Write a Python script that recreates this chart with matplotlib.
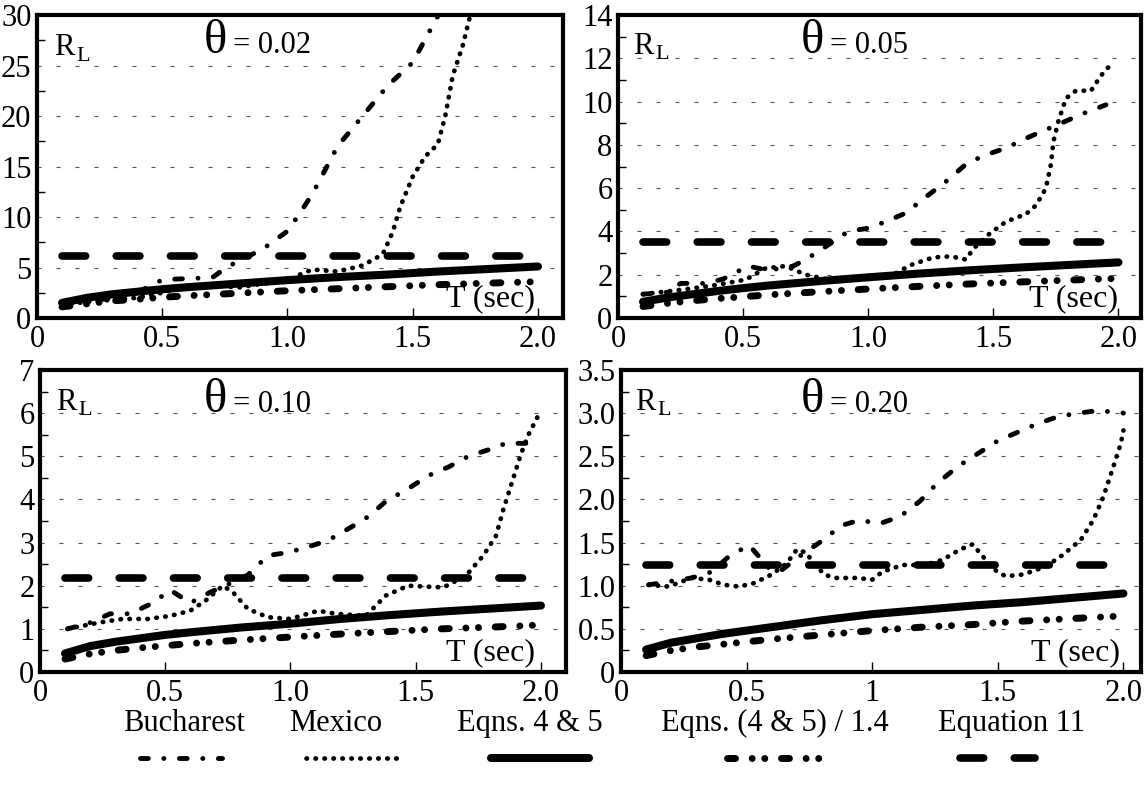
import numpy as np
import matplotlib
matplotlib.use("Agg")
import matplotlib.pyplot as plt
from matplotlib.ticker import MultipleLocator, FixedLocator

plt.rcParams['font.family'] = ['Liberation Serif', 'DejaVu Serif']

# ---- data ---------------------------------------------------------------
# smooth code curves share one period grid
t_eq = [0.1, 0.2, 0.3, 0.4, 0.5, 0.6, 0.8, 1.0, 1.2, 1.4, 1.6, 1.8, 2.0]

# theta = 0.02
buc_t_02 = [0.1, 0.2, 0.3, 0.4, 0.45, 0.5, 0.6, 0.7, 0.75, 0.8, 0.9, 1.0, 1.05,
            1.1, 1.2, 1.3, 1.4, 1.5, 1.6, 1.65]
buc_r_02 = [1.2, 1.6, 2.0, 2.6, 3.1, 3.8, 3.9, 4.0, 4.9, 5.6, 6.8, 8.6, 10.4,
            12.3, 17.0, 20.0, 23.0, 25.3, 29.9, 33.0]
mex_t_02 = [0.1, 0.2, 0.3, 0.4, 0.5, 0.6, 0.7, 0.8, 0.9, 1.0, 1.05, 1.1, 1.2,
            1.3, 1.38, 1.42, 1.45, 1.5, 1.55, 1.6, 1.63, 1.66, 1.7, 1.73, 1.75]
mex_r_02 = [1.3, 1.6, 1.8, 2.0, 2.5, 3.2, 3.3, 3.0, 3.4, 3.6, 4.3, 4.8, 4.6,
            5.2, 6.3, 8.5, 11.0, 14.0, 16.0, 17.2, 20.0, 24.0, 27.0, 30.0, 32.0]
eq45_02 = [1.5, 2.0, 2.35, 2.6, 2.85, 3.05, 3.4, 3.75, 4.05, 4.3, 4.6, 4.85, 5.1]
eq14_02 = [1.1, 1.4, 1.7, 1.85, 2.05, 2.2, 2.45, 2.7, 2.9, 3.1, 3.3, 3.45, 3.6]
eq11_02 = 6.1

# theta = 0.05
buc_t_05 = [0.1, 0.2, 0.25, 0.35, 0.42, 0.52, 0.6, 0.7, 0.75, 0.83, 0.92, 1.0,
            1.07, 1.15, 1.22, 1.31, 1.39, 1.46, 1.55, 1.63, 1.71, 1.79, 1.87, 1.95]
buc_r_05 = [1.1, 1.2, 1.6, 1.6, 1.8, 2.4, 2.2, 2.4, 2.7, 3.3, 4.0, 4.15,
            4.45, 4.85, 5.5, 6.3, 7.1, 7.5, 7.85, 8.3, 8.7, 9.1, 9.5, 9.85]
mex_t_05 = [0.1, 0.25, 0.38, 0.51, 0.59, 0.67, 0.75, 0.83, 0.95, 1.1, 1.17, 1.26,
            1.33, 1.39, 1.42, 1.48, 1.55, 1.63, 1.67, 1.71, 1.73, 1.74, 1.76,
            1.79, 1.83, 1.89, 1.93, 1.98]
mex_r_05 = [1.1, 1.3, 1.5, 1.77, 2.3, 2.4, 2.0, 1.8, 1.85, 2.0, 2.45, 2.8,
            2.85, 2.7, 3.2, 3.85, 4.45, 4.8, 5.2, 6.0, 7.1, 8.15, 9.1,
            10.15, 10.5, 10.5, 11.2, 11.85]
eq45_05 = [0.75, 0.95, 1.1, 1.25, 1.38, 1.5, 1.7, 1.88, 2.05, 2.2, 2.33, 2.45, 2.57]
eq14_05 = [0.53, 0.68, 0.8, 0.9, 0.98, 1.07, 1.21, 1.34, 1.46, 1.57, 1.66, 1.75, 1.83]
eq11_05 = 3.5

# theta = 0.10
buc_t_10 = [0.11, 0.19, 0.28, 0.36, 0.45, 0.52, 0.6, 0.68, 0.74, 0.83, 0.91, 0.99,
            1.07, 1.15, 1.24, 1.31, 1.38, 1.47, 1.55, 1.63, 1.71, 1.79, 1.86, 1.95]
buc_r_10 = [1.0, 1.12, 1.35, 1.35, 1.6, 1.9, 1.6, 1.85, 2.0, 2.25, 2.7, 2.77,
            2.9, 3.05, 3.35, 3.6, 3.95, 4.25, 4.55, 4.75, 5.0, 5.15, 5.3, 5.3]
mex_t_10 = [0.11, 0.24, 0.33, 0.43, 0.52, 0.6, 0.66, 0.73, 0.77, 0.83, 0.91, 1.0,
            1.11, 1.18, 1.3, 1.38, 1.47, 1.61, 1.7, 1.77, 1.82, 1.85, 1.89, 1.92,
            1.95, 1.99]
mex_r_10 = [1.0, 1.15, 1.23, 1.23, 1.3, 1.42, 1.65, 2.0, 1.85, 1.46, 1.27, 1.23,
            1.42, 1.35, 1.3, 1.77, 2.0, 1.96, 2.23, 2.7, 3.15, 3.77, 4.5, 5.05,
            5.5, 5.95]
eq45_10 = [0.43, 0.6, 0.7, 0.78, 0.86, 0.92, 1.03, 1.12, 1.23, 1.32, 1.4, 1.47, 1.54]
eq14_10 = [0.3, 0.42, 0.5, 0.56, 0.61, 0.66, 0.74, 0.81, 0.88, 0.94, 1.0, 1.04, 1.09]
eq11_10 = 2.17

# theta = 0.20
buc_t_20 = [0.11, 0.28, 0.36, 0.43, 0.51, 0.59, 0.63, 0.71, 0.79, 0.88, 0.95,
            1.03, 1.11, 1.19, 1.26, 1.34, 1.42, 1.5, 1.58, 1.66, 1.74, 1.82,
            1.9, 2.0]
buc_r_20 = [1.01, 1.09, 1.16, 1.34, 1.47, 1.2, 1.16, 1.34, 1.5, 1.7, 1.76,
            1.72, 1.8, 1.98, 2.19, 2.38, 2.53, 2.68, 2.78, 2.88, 2.96, 3.0,
            3.03, 3.0]
mex_t_20 = [0.11, 0.19, 0.28, 0.35, 0.41, 0.47, 0.53, 0.6, 0.66, 0.7, 0.74, 0.76,
            0.81, 0.85, 0.94, 1.0, 1.04, 1.12, 1.21, 1.28, 1.35, 1.4, 1.44, 1.49,
            1.53, 1.6, 1.69, 1.76, 1.83, 1.88, 1.92, 1.96, 1.99, 2.0]
mex_r_20 = [1.01, 0.99, 1.09, 1.07, 1.01, 0.99, 1.03, 1.13, 1.26, 1.42, 1.38, 1.28,
            1.13, 1.09, 1.09, 1.07, 1.16, 1.24, 1.24, 1.3, 1.42, 1.48, 1.34, 1.18,
            1.11, 1.13, 1.22, 1.36, 1.53, 1.76, 2.03, 2.38, 2.65, 2.8]
eq45_20 = [0.26, 0.34, 0.39, 0.44, 0.48, 0.52, 0.6, 0.67, 0.72, 0.77, 0.81, 0.86, 0.91]
eq14_20 = [0.19, 0.25, 0.29, 0.32, 0.35, 0.38, 0.43, 0.48, 0.52, 0.55, 0.59, 0.62, 0.65]
eq11_20 = 1.24

eq11_t = [0.1, 1.95]

thetas = ['0.02', '0.05', '0.10', '0.20']
y_max = [30, 14, 7, 3.5]
y_step = [5, 2, 1, 0.5]
y_labels = [['0', '5', '10', '15', '20', '25', '30'],
            ['0', '2', '4', '6', '8', '10', '12', '14'],
            ['0', '1', '2', '3', '4', '5', '6', '7'],
            ['0', '0.5', '1.0', '1.5', '2.0', '2.5', '3.0', '3.5']]
x_labels = [['0', '0.5', '1.0', '1.5', '2.0'],
            ['0', '0.5', '1.0', '1.5', '2.0'],
            ['0', '0.5', '1.0', '1.5', '2.0'],
            ['0', '0.5', '1', '1.5', '2.0']]

panels = [
    (buc_t_02, buc_r_02, mex_t_02, mex_r_02, eq45_02, eq14_02, eq11_02),
    (buc_t_05, buc_r_05, mex_t_05, mex_r_05, eq45_05, eq14_05, eq11_05),
    (buc_t_10, buc_r_10, mex_t_10, mex_r_10, eq45_10, eq14_10, eq11_10),
    (buc_t_20, buc_r_20, mex_t_20, mex_r_20, eq45_20, eq14_20, eq11_20),
]

# ---- styles (dash lengths are in line widths) ----------------------------
styles = {
    'Bucharest': dict(lw=3.5, dashes=(1.6, 3.2, 0.01, 3.2)),
    'Mexico': dict(lw=3.4, dashes=(0.1, 1.8)),
    'Eqns. 4 & 5': dict(lw=5.8),
    'Eqns. (4 & 5) / 1.4': dict(lw=5, dashes=(1.15, 2.4, 0.01, 1.8, 0.01, 2.4)),
    'Equation 11': dict(lw=5.5, dashes=(3.1, 4.0)),
}
for s in styles.values():
    s.update(color='black', dash_capstyle='round', solid_capstyle='round')

W, H = 1144, 787
fig = plt.figure(figsize=(W / 100, H / 100), dpi=100)

# axes frames in pixels: left, top, right, bottom
frames = [(37, 15, 563, 318), (618, 15, 1141, 318),
          (40, 370, 566, 672), (621, 370, 1141, 672)]
x_right = [2.1, 2.09, 2.1, 2.07]

theta_pos = [(0.317, 0.875), (0.35, 0.875), (0.312, 0.862), (0.346, 0.862)]
rl_pos = [(0.032, 0.868), (0.029, 0.872), (0.03, 0.868), (0.027, 0.868)]
tsec_pos = [0.947, 0.956, 0.941, 0.96]

for i, (bt, br, mt, mr, e45, e14, e11) in enumerate(panels):
    l, t, r, b = frames[i]
    ax = fig.add_axes([l / W, 1 - b / H, (r - l) / W, (b - t) / H])
    ax.plot(bt, br, **styles['Bucharest'])
    ax.plot(mt, mr, **styles['Mexico'])
    ax.plot(t_eq, e45, **styles['Eqns. 4 & 5'])
    ax.plot(t_eq, e14, **styles['Eqns. (4 & 5) / 1.4'])
    ax.plot(eq11_t, [e11, e11], **styles['Equation 11'])

    ax.set_xlim(0, x_right[i])
    ax.set_ylim(0, y_max[i])
    ax.xaxis.set_major_locator(FixedLocator([0, 0.5, 1.0, 1.5, 2.0]))
    ax.set_xticklabels(x_labels[i])
    yt = np.arange(len(y_labels[i])) * y_step[i]
    ax.yaxis.set_major_locator(FixedLocator(yt))
    ax.set_yticklabels(y_labels[i])
    ax.yaxis.set_minor_locator(MultipleLocator(y_step[i] / 2))
    ax.tick_params(axis='both', which='both', direction='in', labelsize=22,
                   width=1, color='black')
    ax.tick_params(axis='y', which='major', length=0, pad=4)
    ax.tick_params(axis='y', which='minor', length=6)
    ax.tick_params(axis='x', which='major', length=7, pad=5)
    ax.yaxis.grid(True, which='major', linestyle=(0, (3.6, 13.5)),
                  color='#555555', lw=0.8)
    for sp in ax.spines.values():
        sp.set_linewidth(3)

    tx, ty = theta_pos[i]
    ax.text(tx, ty, '\u03b8', transform=ax.transAxes, fontsize=35,
            ha='left', va='baseline')
    ax.annotate('= ' + thetas[i], xy=(tx, ty), xycoords='axes fraction',
                xytext=(21, 0), textcoords='offset points', fontsize=22,
                ha='left', va='baseline')

    rx, ry = rl_pos[i]
    ax.text(rx, ry, 'R', transform=ax.transAxes, fontsize=22,
            ha='left', va='baseline')
    ax.annotate('L', xy=(rx, ry), xycoords='axes fraction', xytext=(16, -4),
                textcoords='offset points', fontsize=16, ha='left', va='baseline')

    ax.text(tsec_pos[i], 0.04, 'T (sec)', transform=ax.transAxes, fontsize=23,
            ha='right', va='baseline')

# ---- legend row ---------------------------------------------------------
leg = fig.add_axes([0, 0, 1, 1], zorder=-1)
leg.set_xlim(0, W)
leg.set_ylim(H, 0)
leg.axis('off')
leg_names = list(styles.keys())
leg_text_x = [184, 336, 530, 775, 1012]
leg_line_x = [(140, 222), (306, 398), (491, 589), (727, 819), (960, 1035)]
for name, cx, (x0, x1) in zip(leg_names, leg_text_x, leg_line_x):
    leg.text(cx, 731, name, fontsize=22, ha='center', va='baseline')
    leg.plot([x0, x1], [758, 758], **styles[name])

fig.savefig('out.png', dpi=100)
